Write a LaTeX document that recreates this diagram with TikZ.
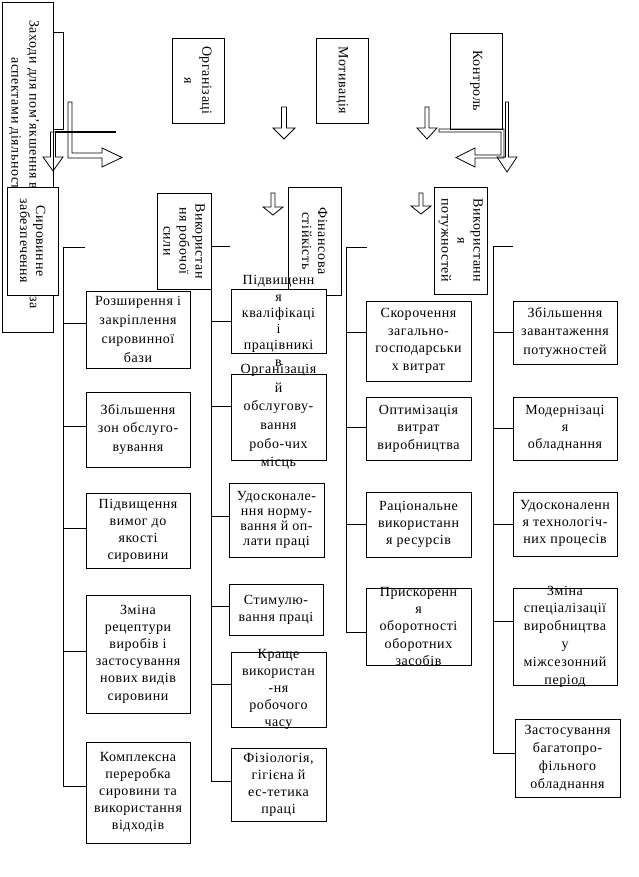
\documentclass[tikz,border=0pt]{standalone}
\usepackage{fontspec}
\setmainfont{Liberation Serif}[LetterSpace=4.0]

% text of a box, with no height of its own so that the box keeps its own size
\newcommand\boxtext[2][18.5pt]{\makebox[0pt]{\raisebox{-3.5pt}[0pt][0pt]{\parbox[c]{170pt}{\centering\baselineskip=#1\relax #2}}}}
% hollow arrow pointing down: x, top, head, tip, shaft half width, head half width
\newcommand\blockdown[6]{%
  \draw (#1-#5,#2) -- (#1+#5,#2) -- (#1+#5,#3) -- (#1+#6,#3) -- (#1,#4)
        -- (#1-#6,#3) -- (#1-#5,#3) -- cycle;}

\begin{document}
\begin{tikzpicture}[
            x = 1pt, y = -1pt, % picture measured in pixels, top down
            line width = 0.8pt,
            txt/.style = {inner sep = 0pt, font = \fontsize{14}{18.5}\selectfont},
            box/.style = {draw, fill = white, inner sep = 0pt,
              font = \fontsize{14}{18.5}\selectfont},
            vbox/.style = {box, rotate = -90},
            sz/.style 2 args = {minimum width = #1pt, minimum height = #2pt}
            ]
            \useasboundingbox (0,0) rectangle (639,877);

            % top row
            \node[draw, inner sep = 0pt, sz = {51}{330}] (meas) at (27.5,167) {};
            \node[txt, rotate = -90, anchor = west] (meas1) at (33,20) {Заходи для пом’якшення в};
            \node[txt, rotate = -90, anchor = west] (meas2) at (15,57) {аспектами діяльності};
            \node[txt, rotate = -90, anchor = west] (meas3) at (33,296) {за};
            \draw (53,32) rectangle (63,129);
            \draw[line width = 1.8pt] (55,132) -- (116,132);

            \node[vbox, sz = {85}{52}] (org) at (198,80.5) {\boxtext[18pt]{Організаці\\я}};
            \node[vbox, sz = {85}{52}] (mot) at (342,80.5) {\boxtext{Мотивація}};
            \node[vbox, sz = {96}{52}] (ctrl) at (476,81) {\boxtext{Контроль}};

            % hollow arrows
            \blockdown{53}{132}{157}{171}{2.5}{10}
            \blockdown{284}{107}{128}{139}{2.5}{11}
            \blockdown{427}{107}{128}{139}{2}{10}
            \blockdown{507}{102}{157}{172}{1.5}{10}
            \blockdown{273}{193}{207}{215}{2}{10}
            \blockdown{421}{193}{206}{214}{2}{10}
            \draw (68,102) -- (72,102) -- (72,153) -- (102,153) -- (102,148)
              -- (122,157.5) -- (102,167) -- (102,158) -- (68,158) -- cycle;
            \draw (439,129) -- (504,129) -- (504,158) -- (475,158) -- (475,167)
              -- (456,157.5) -- (475,148) -- (475,155) -- (501,155) -- (501,132)
              -- (439,132) -- cycle;

            % second row
            \node[vbox, sz = {108}{51}] (raw) at (32.5,241) {\boxtext[16pt]{Сировинне\\забезпечення}};
            \node[vbox, sz = {96}{54}] (lab) at (184,241) {\boxtext[16pt]{Використан\\ня робочої\\сили}};
            \node[vbox, sz = {108}{53}] (fin) at (314.5,241) {\boxtext[16pt]{Фінансова\\стійкість}};
            \node[vbox, sz = {107}{53}] (cap) at (460.5,240.5) {\boxtext[16pt]{Використанн\\я\\потужностей}};

            % trunks of the four columns
            \coordinate (k1) at (63,247);
            \coordinate (k2) at (211,246);
            \coordinate (k3) at (346,247);
            \coordinate (k4) at (493,246);
            \draw ([xshift = 22pt]k1) -- (k1) -- (k1 |- 0,786);
            \draw ([xshift = 19pt]k2) -- (k2) -- (k2 |- 0,781);
            \draw ([xshift = 21pt]k3) -- (k3) -- (k3 |- 0,632);
            \draw ([xshift = 20pt]k4) -- (k4) -- (k4 |- 0,753);

            % column 1
            \node[box, sz = {104}{77}] (r1) at (138,329.5) {\boxtext[18.7pt]{Розширення і\\закріплення\\сировинної\\бази}};
            \node[box, sz = {104}{75}] (r2) at (138,429.5) {\boxtext{Збільшення\\зон обслуго-\\вування}};
            \node[box, sz = {104}{75}] (r3) at (138,530.5) {\boxtext[17pt]{Підвищення\\вимог до\\якості\\сировини}};
            \node[box, sz = {104}{118}] (r4) at (138,654) {\boxtext[17.2pt]{Зміна\\рецептури\\виробів і\\застосування\\нових видів\\сировини}};
            \node[box, sz = {104}{101}] (r5) at (138,792.5) {\boxtext[17pt]{Комплексна\\переробка\\сировини та\\використання\\відходів}};

            % column 2
            \node[box, sz = {95}{64}] (l1) at (278.5,321) {\boxtext[16.3pt]{Підвищенн\\я\\кваліфікаці\\і\\працівникі\\в}};
            \node[box, sz = {95}{86}] (l2) at (278.5,417) {\boxtext[18.6pt]{Організація\\й\\обслугову-\\вання\\робо-чих\\місць}};
            \node[box, sz = {95}{74}] (l3) at (276.5,520) {\boxtext[15pt]{Удосконале-\\ння норму-\\вання й оп-\\лати праці}};
            \node[box, sz = {94}{51}] (l4) at (276,609.5) {\boxtext[17pt]{Стимулю-\\вання праці}};
            \node[box, sz = {95}{75}] (l5) at (278.5,689.5) {\boxtext[17pt]{Краще\\використан\\-ня\\робочого\\часу}};
            \node[box, sz = {95}{73}] (l6) at (278.5,784.5) {\boxtext[17pt]{Фізіологія,\\гігієна й\\ес-тетика\\праці}};

            % column 3
            \node[box, sz = {105}{80}] (f1) at (418.5,341) {\boxtext[17.7pt]{Скорочення\\загально-\\господарськи\\х витрат}};
            \node[box, sz = {105}{63}] (f2) at (418.5,428.5) {\boxtext[17.5pt]{Оптимізація\\витрат\\виробництва}};
            \node[box, sz = {105}{65}] (f3) at (418.5,524.5) {\boxtext[17pt]{Раціональне\\використанн\\я ресурсів}};
            \node[box, sz = {105}{77}] (f4) at (418.5,626.5) {\boxtext[17.3pt]{Прискоренн\\я\\оборотності\\оборотних\\засобів}};

            % column 4
            \node[box, sz = {104}{63}] (c1) at (565,332.5) {\boxtext{Збільшення\\завантаження\\потужностей}};
            \node[box, sz = {104}{63}] (c2) at (565,428.5) {\boxtext[17pt]{Модернізаці\\я\\обладнання}};
            \node[box, sz = {104}{64}] (c3) at (565,524) {\boxtext[17pt]{Удосконаленн\\я технологіч-\\них процесів}};
            \node[box, sz = {104}{97}] (c4) at (565,636.5) {\boxtext[17.8pt]{Зміна\\спеціалізації\\виробництва\\у\\міжсезонний\\період}};
            \node[box, sz = {105}{78}] (c5) at (567.5,758) {\boxtext[18pt]{Застосування\\багатопро-\\фільного\\обладнання}};

            % branches from the trunks
            \foreach \b/\y in {r1/323, r2/426, r3/528, r4/651, r5/786}
              \draw (k1 |- 0,\y) -- (\b.west |- 0,\y);
            \foreach \b/\y in {l1/321, l2/406, l3/516, l4/606, l5/684, l6/781}
              \draw (k2 |- 0,\y) -- (\b.west |- 0,\y);
            \foreach \b/\y in {f1/332, f2/427, f3/524, f4/632}
              \draw (k3 |- 0,\y) -- (\b.west |- 0,\y);
            \foreach \b/\y in {c1/332, c2/428, c3/524, c4/621, c5/753}
              \draw (k4 |- 0,\y) -- (\b.west |- 0,\y);
        \end{tikzpicture}
\end{document}
